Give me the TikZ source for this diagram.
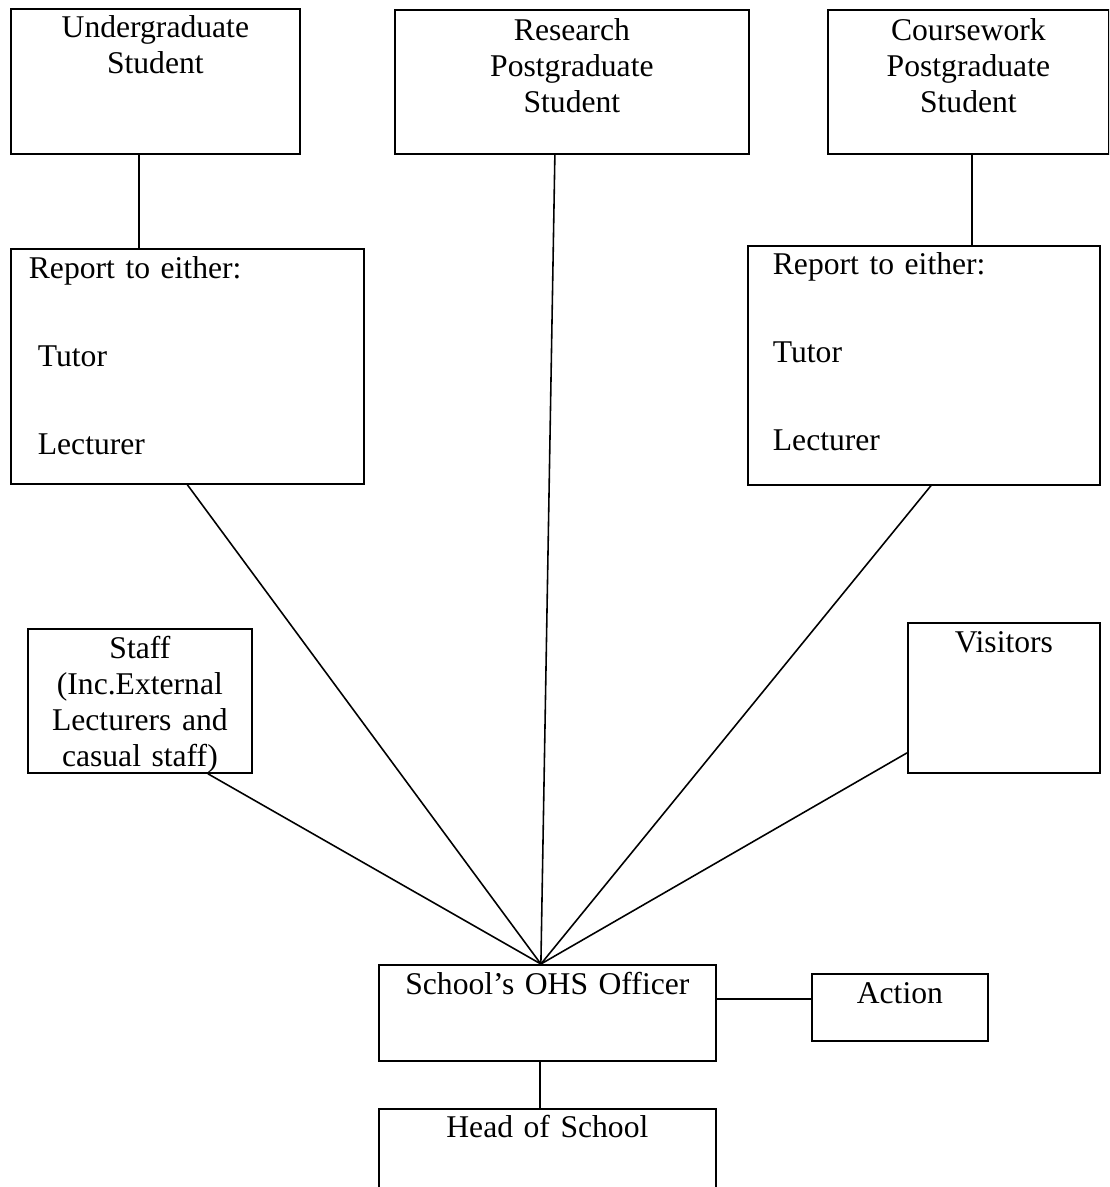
\documentclass[tikz,border=0pt]{standalone}
\usepackage{fontspec}
\setmainfont{Liberation Serif}
\usepackage{tikz}
\usetikzlibrary{arrows,shapes}
\tikzstyle{box}=[draw,rectangle,line width=1pt,inner xsep=0pt,inner ysep=0pt,anchor=north west,
                 align=center,text height=0.6cm,font=\fontsize{18pt}{20.4pt}\selectfont]
\tikzstyle{report}=[box,align=left,inner xsep=0.36cm]
\tikzstyle{edge} = [draw,line width=0.9pt]

\begin{document}
\begin{tikzpicture}
    \clip (0,0) rectangle (22.18,-23.74);
    % the top row: students
    \node[box,text width=5.78cm,text height=0.58cm,text depth=2.32cm] (ug) at (0.2,-0.16) {Undergraduate\\Student};
    \node[box,text width=7.08cm,text height=0.62cm,text depth=2.26cm] (rp) at (7.88,-0.18) {Research\\Postgraduate\\Student};
    \node[box,text width=5.62cm,text height=0.62cm,text depth=2.26cm] (cw) at (16.54,-0.18) {Coursework\\Postgraduate\\Student};
    % who the students report to
    \node[report,text width=6.34cm,text depth=4.1cm] (ugrep) at (0.2,-4.96)
        {Report to either:\\[1.04cm]\hspace*{0.18cm}Tutor\\[1.04cm]\hspace*{0.18cm}Lecturer};
    \node[report,inner xsep=0.5cm,text width=6.04cm,text height=0.58cm,text depth=4.2cm] (pgrep) at (14.94,-4.9)
        {Report to either:\\[1.04cm]Tutor\\[1.04cm]Lecturer};
    % staff and visitors
    \node[box,text width=4.48cm,text depth=2.28cm] (staff) at (0.54,-12.56) {Staff\\(Inc.External\\Lecturers and\\casual staff)};
    \node[box,text width=3.84cm,text depth=2.4cm] (vis) at (18.14,-12.44) {Visitors};
    % the bottom of the chart
    \node[box,text width=6.74cm,text depth=1.32cm] (ohs) at (7.56,-19.28) {School’s OHS Officer};
    \node[box,text width=3.52cm,text depth=0.74cm] (act) at (16.22,-19.46) {Action};
    \node[box,text width=6.74cm,text height=0.58cm,text depth=3cm] (head) at (7.56,-22.16) {Head of School};

    \coordinate (hub) at ([xshift=-0.13cm]ohs.north);

    % students down to their report boxes
    \path[edge] ([xshift=-0.33cm]ug.south) -- ([xshift=-0.33cm]ug.south |- ugrep.north);
    \path[edge] ([xshift=0.07cm]cw.south) -- ([xshift=0.07cm]cw.south |- pgrep.north);
    % everything meets at the OHS officer
    \foreach \src/\anc/\dx/\dy in {rp/south/-0.34/0, ugrep/south/0/0, pgrep/south/0.14/0,
                                  staff/south/1.36/0, vis/west/0/-1.1}
        \path[edge] ([xshift=\dx cm,yshift=\dy cm]\src.\anc) -- (hub);
    \path[edge] ([yshift=0.28cm]ohs.east) -- ([yshift=0.28cm]ohs.east -| act.west);
    \path[edge] ([xshift=-0.15cm]ohs.south) -- ([xshift=-0.15cm]ohs.south |- head.north);
\end{tikzpicture}
\end{document}
